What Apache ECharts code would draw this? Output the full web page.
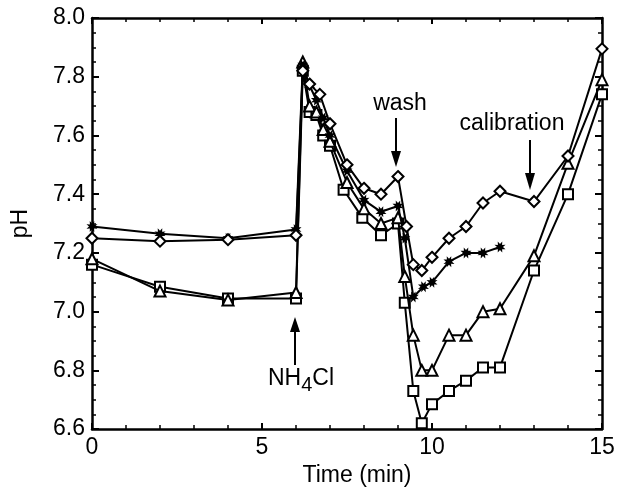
<!DOCTYPE html>
<html>
<head>
<meta charset="utf-8">
<script src="https://cdn.jsdelivr.net/npm/echarts@6/dist/echarts.min.js"></script>
<style>html,body{margin:0;padding:0;background:#fff}#c{width:618px;height:492px}</style>
</head>
<body>
<div id="c"></div>
<script>
// ---- data ----
var diamondT = [0,2,4,6,6.2,6.4,6.7,7.0,7.5,8.0,8.5,9.0,9.25,9.45,9.7,10,10.5,11,11.5,12,13,14,15];
var diamondV = [7.25,7.24,7.245,7.26,7.82,7.775,7.74,7.64,7.50,7.42,7.40,7.46,7.29,7.16,7.14,7.185,7.25,7.29,7.37,7.41,7.375,7.53,7.895];

var starT = [0,2,4,6,6.2,6.4,6.6,6.8,7.0,7.5,8.0,8.5,9.0,9.2,9.45,9.75,10,10.5,11,11.5,12];
var starV = [7.29,7.265,7.25,7.28,7.84,7.77,7.72,7.66,7.60,7.48,7.38,7.34,7.36,7.25,7.05,7.085,7.10,7.17,7.20,7.20,7.22];

var triT = [0,2,4,6,6.2,6.4,6.6,6.8,7.0,7.5,8.0,8.5,9.0,9.2,9.45,9.7,10,10.5,11,11.5,12,13,14,15];
var triV = [7.18,7.07,7.04,7.065,7.85,7.70,7.68,7.62,7.58,7.44,7.35,7.30,7.32,7.12,6.92,6.80,6.80,6.92,6.92,7.00,7.01,7.19,7.505,7.79];

var sqT = [0,2,4,6,6.2,6.4,6.6,6.8,7.0,7.4,7.95,8.5,9.0,9.2,9.45,9.7,10,10.5,11,11.5,12,13,14,15];
var sqV = [7.16,7.085,7.045,7.045,7.82,7.68,7.67,7.60,7.565,7.415,7.32,7.26,7.30,7.03,6.73,6.62,6.685,6.73,6.765,6.81,6.81,7.14,7.40,7.74];

var xTicks = [0,5,10,15];
var yTicks = [6.6,6.8,7.0,7.2,7.4,7.6,7.8,8.0];

function pairs(t, v){ return t.map(function(x,i){ return [x, v[i]]; }); }

// asterisk symbol path (8-point star)
function starPath(){
  var pts = [];
  for (var i = 0; i < 16; i++){
    var a = Math.PI * i / 8 + Math.PI / 8;
    var r = (i % 2 === 0) ? 10 : 5;
    pts.push((r*Math.cos(a)).toFixed(2) + ',' + (r*Math.sin(a)).toFixed(2));
  }
  return 'path://M' + pts.join('L') + 'Z';
}

var FONT = '"Liberation Sans", Arial, Helvetica, sans-serif';
var FS = 23;
var ctx = document.createElement('canvas').getContext('2d');
function textW(t, size){ ctx.font = size + 'px ' + FONT; return ctx.measureText(t).width; }

var chart = echarts.init(document.getElementById('c'), null, {renderer:'canvas'});

function axisCommon(){
  return {
    axisLine:{show:true, onZero:false, lineStyle:{color:'#000', width:2.5}},
    axisTick:{show:true, inside:true, length:7, lineStyle:{color:'#000', width:2}},
    minorTick:{show:true, length:4, lineStyle:{color:'#000', width:1.5}},
    splitLine:{show:false}
  };
}

var nhX = 268, nhW = textW('NH', FS), subW = textW('4', 20);

var baseLine = {color:'#000', width:2};
var option = {
  animation:false,
  backgroundColor:'#fff',
  grid:{left:92, right:16, top:18, bottom:59, containLabel:false},
  xAxis:[
    Object.assign(axisCommon(), {
      type:'value', min:0, max:15, interval:5, position:'bottom',
      minorTick:{show:true, splitNumber:5, length:4, lineStyle:{color:'#000', width:1.5}},
      axisTick:{show:true, inside:true, length:6, lineStyle:{color:'#000', width:2}},
      axisLabel:{color:'#000', fontSize:FS, fontFamily:FONT, margin:7,
        formatter:function(v){ return xTicks.indexOf(v) >= 0 ? String(v) : ''; }},
      name:'Time (min)', nameLocation:'middle', nameGap:26,
      nameTextStyle:{color:'#000', fontSize:FS, fontFamily:FONT, padding:[0,0,0,20]}
    }),
    Object.assign(axisCommon(), {
      type:'value', min:0, max:15, interval:5, position:'top',
      minorTick:{show:true, splitNumber:5, length:4, lineStyle:{color:'#000', width:1.5}},
      axisTick:{show:true, inside:true, length:6, lineStyle:{color:'#000', width:2}},
      axisLabel:{show:false}
    })
  ],
  yAxis:[
    Object.assign(axisCommon(), {
      type:'value', min:6.6, max:8.0, interval:0.2, position:'left',
      minorTick:{show:true, splitNumber:4, length:4, lineStyle:{color:'#000', width:1.5}},
      axisLabel:{color:'#000', fontSize:FS, fontFamily:FONT, margin:7,
        formatter:function(v){ return v.toFixed(1); }},
      name:'pH', nameLocation:'middle', nameGap:60,
      nameTextStyle:{color:'#000', fontSize:FS, fontFamily:FONT}
    }),
    Object.assign(axisCommon(), {
      type:'value', min:6.6, max:8.0, interval:0.2, position:'right',
      minorTick:{show:true, splitNumber:4, length:4, lineStyle:{color:'#000', width:1.5}},
      axisLabel:{show:false}
    })
  ],
  series:[
    {type:'line', data:pairs(sqT, sqV), symbol:'emptyRect', symbolSize:10,
     lineStyle:baseLine, itemStyle:{color:'#000', borderWidth:2}, z:3},
    {type:'line', data:pairs(triT, triV), symbol:'emptyTriangle', symbolSize:11,
     lineStyle:baseLine, itemStyle:{color:'#000', borderWidth:2}, z:4},
    {type:'line', data:pairs(starT, starV), symbol:starPath(), symbolSize:11,
     lineStyle:baseLine, itemStyle:{color:'#000'}, z:5},
    {type:'line', data:pairs(diamondT, diamondV), symbol:'emptyDiamond', symbolSize:11,
     lineStyle:baseLine, itemStyle:{color:'#000', borderWidth:2}, z:6}
  ],
  graphic:[
    // wash
    {type:'text', x:400, y:104, style:{text:'wash', fill:'#000', font:FS + 'px ' + FONT, textAlign:'center', textVerticalAlign:'middle'}},
    {type:'line', shape:{x1:396, y1:118, x2:396, y2:155}, style:{stroke:'#000', lineWidth:2}},
    {type:'polygon', shape:{points:[[391,151],[401,151],[396,167]]}, style:{fill:'#000'}},
    // calibration
    {type:'text', x:512, y:124, style:{text:'calibration', fill:'#000', font:FS + 'px ' + FONT, textAlign:'center', textVerticalAlign:'middle'}},
    {type:'line', shape:{x1:530, y1:140, x2:530, y2:178}, style:{stroke:'#000', lineWidth:2}},
    {type:'polygon', shape:{points:[[525,173],[535,173],[530,190]]}, style:{fill:'#000'}},
    // NH4Cl
    {type:'line', shape:{x1:295, y1:365, x2:295, y2:328}, style:{stroke:'#000', lineWidth:2}},
    {type:'polygon', shape:{points:[[290,332],[300,332],[295,317]]}, style:{fill:'#000'}},
    {type:'text', x:nhX, y:379, style:{text:'NH', fill:'#000', font:FS + 'px ' + FONT, textAlign:'left', textVerticalAlign:'middle'}},
    {type:'text', x:nhX + nhW, y:385, style:{text:'4', fill:'#000', font:'20px ' + FONT, textAlign:'left', textVerticalAlign:'middle'}},
    {type:'text', x:nhX + nhW + subW, y:379, style:{text:'Cl', fill:'#000', font:FS + 'px ' + FONT, textAlign:'left', textVerticalAlign:'middle'}}
  ]
};
chart.setOption(option);
</script>
</body>
</html>
